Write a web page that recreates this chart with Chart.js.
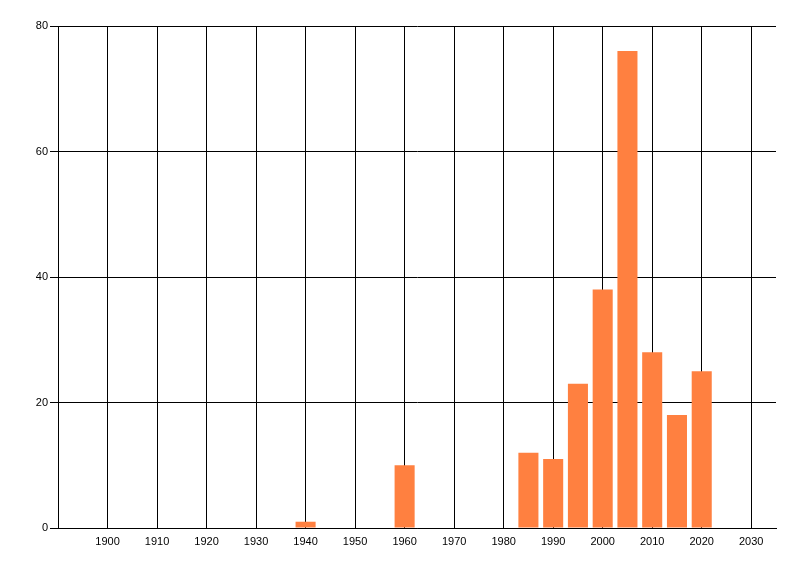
<!DOCTYPE html>
<html>
<head>
<meta charset="utf-8">
<script src="https://cdn.jsdelivr.net/npm/chart.js@4"></script>
<style>
  html, body { margin: 0; padding: 0; background: #fff; }
  #wrap { width: 800px; height: 576px; }
</style>
</head>
<body>
<div id="wrap"><canvas id="grafico"></canvas></div>
<script>
// anos e quantidades
var anos = [1940, 1960, 1985, 1990, 1995, 2000, 2005, 2010, 2015, 2020];
var quantidades = [1, 10, 12, 11, 23, 38, 76, 28, 18, 25];

// rotulos do eixo X e do eixo Y
var ticksAnos = [1900, 1910, 1920, 1930, 1940, 1950, 1960, 1970, 1980, 1990, 2000, 2010, 2020, 2030];
var ticksValores = [0, 20, 40, 60, 80];

var pontos = anos.map(function (a, i) { return { x: a, y: quantidades[i] }; });

Chart.defaults.font.family = '"Liberation Sans", Arial, sans-serif';
Chart.defaults.font.size = 11;
Chart.defaults.color = '#000';

var ctx = document.getElementById('grafico').getContext('2d');
var chart = new Chart(ctx, {
  type: 'bar',
  data: {
    datasets: [
      {
        data: pontos,
        backgroundColor: '#FF8040',
        borderWidth: 0,
        barPercentage: 0.81,
        categoryPercentage: 1
      }
    ]
  },
  options: {
    responsive: true,
    maintainAspectRatio: false,
    animation: false,
    layout: { padding: { left: 0, right: 24, top: 26, bottom: 0 } },
    plugins: {
      legend: { display: false },
      tooltip: { enabled: false }
    },
    scales: {
      x: {
        type: 'linear',
        min: 1890,
        max: 2035,
        offset: false,
        grid: { offset: false, color: '#000', lineWidth: 1, drawTicks: false },
        border: { color: '#000', width: 1 },
        ticks: { padding: 7, maxRotation: 0, autoSkip: false, callback: function (v) { return String(v); } },
        afterBuildTicks: function (scale) {
          scale.ticks = ticksAnos.map(function (v) { return { value: v }; });
        },
        afterFit: function (scale) { scale.height = 48; }
      },
      y: {
        min: 0,
        max: 80,
        grid: { color: '#000', lineWidth: 1, tickLength: 8 },
        border: { color: '#000', width: 1 },
        ticks: { padding: 2 },
        afterBuildTicks: function (scale) {
          scale.ticks = ticksValores.map(function (v) { return { value: v }; });
        },
        afterFit: function (scale) { scale.width = 58; }
      }
    }
  }
});
</script>
</body>
</html>
